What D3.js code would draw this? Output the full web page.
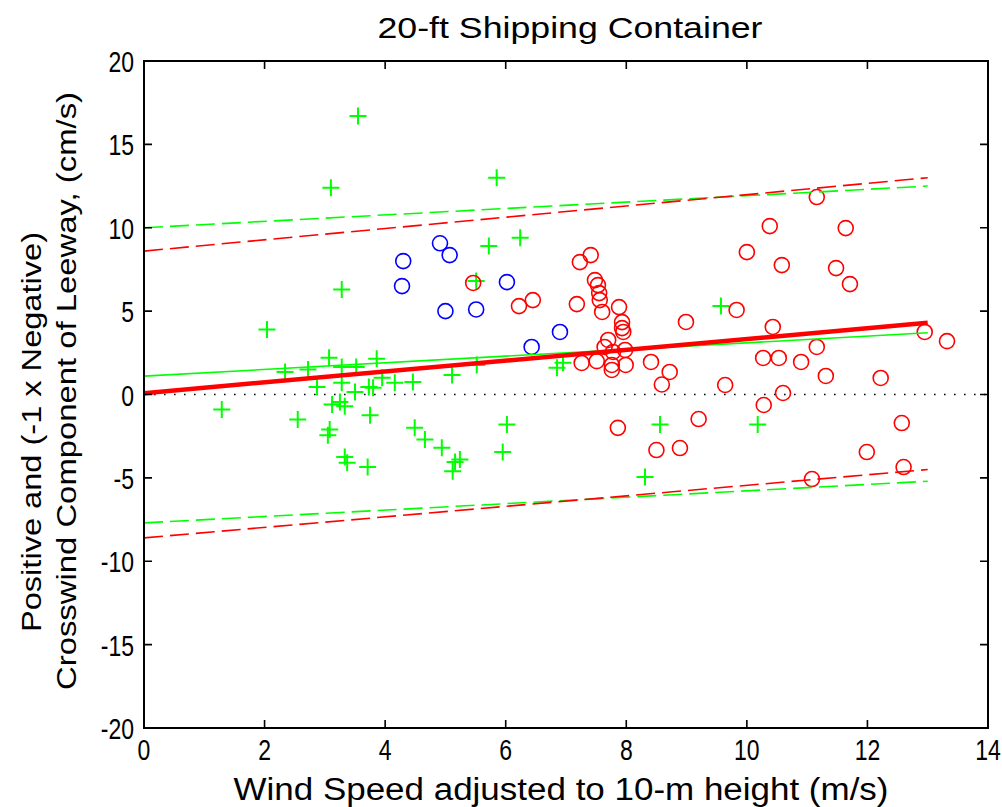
<!DOCTYPE html>
<html><head><meta charset="utf-8">
<script src="https://cdn.jsdelivr.net/npm/d3@7/dist/d3.min.js"></script>
<style>body{margin:0;background:#fff}svg{display:block}text{font-family:Arial,"Liberation Sans",sans-serif}</style>
</head><body><div id="chart"></div>
<script>
const xTicks = [0,2,4,6,8,10,12,14];
const yTicks = [-20,-15,-10,-5,0,5,10,15,20];

// Green "+" points: [wind speed, leeway]
const greenX = [3.55,3.10,5.85,3.28,5.72,6.24,5.51,9.57,2.04,1.29,2.55,2.34,2.72,3.07,3.28,3.52,3.86,2.87,3.28,3.50,3.73,3.12,3.25,3.33,3.08,3.05,3.75,3.33,3.37,3.71,3.95,3.80,4.16,4.46,5.11,5.52,4.49,4.66,4.94,5.16,5.24,5.12,6.02,5.95,6.85,6.95,8.56,8.31,10.18];
const greenY = [16.7,12.4,13.0,6.3,8.9,9.4,6.8,5.3,3.9,-0.9,-1.5,1.35,1.5,2.2,1.65,1.65,2.15,0.45,0.7,0.15,0.45,-0.6,-0.45,-0.7,-2.1,-2.45,-1.25,-3.75,-4.1,-4.35,1.0,0.4,0.7,0.75,1.17,1.77,-2.0,-2.7,-3.2,-4.05,-3.9,-4.6,-1.8,-3.45,1.6,1.9,-1.8,-4.95,-1.8];

// Blue circles
const blueX = [4.91,5.07,4.30,4.28,5.00,5.51,6.02,6.90,6.43];
const blueY = [9.07,8.36,8.0,6.5,5.0,5.1,6.74,3.75,2.85];

// Red circles
const redX = [5.46,6.22,6.45,7.23,7.41,7.18,7.48,7.53,7.55,7.56,7.60,7.88,7.93,7.93,7.95,7.70,7.64,7.78,7.98,7.26,7.51,7.76,7.76,7.99,8.41,7.86,8.59,8.72,
  11.16,10.38,11.64,10.00,10.58,11.48,11.71,9.83,8.99,10.43,12.95,13.32,11.16,10.27,10.53,10.90,11.31,12.22,9.64,10.60,10.28,9.20,8.50,8.89,12.57,11.99,12.60,11.08];
const redY = [6.69,5.3,5.66,7.94,8.36,5.42,6.86,6.56,6.08,5.66,4.95,5.24,4.34,3.98,3.75,3.27,2.85,2.55,2.67,1.89,2.0,1.77,1.47,1.77,1.95,-2.0,0.6,1.35,
  11.84,10.1,9.98,8.54,7.76,7.58,6.62,5.07,4.35,4.05,3.75,3.2,2.85,2.19,2.19,1.95,1.11,0.99,0.57,0.09,-0.63,-1.47,-3.33,-3.21,-1.71,-3.45,-4.35,-5.07];

// Fit lines [x0, y0, x1, y1]
const redFit = [0, 0.08, 13.0, 4.3];
const greenFit = [0, 1.1, 13.0, 3.7];
const redUpper = [0, 8.6, 13.0, 13.0];
const redLower = [0, -8.6, 13.0, -4.5];
const greenUpper = [0, 10.0, 13.0, 12.5];
const greenLower = [0, -7.7, 13.0, -5.2];
const zeroLine = [0, 0, 14, 0];

const W = 1002, H = 807;
const L = 144, R = 988, T = 61, B = 728;
const svg = d3.select("#chart").append("svg").attr("width", W).attr("height", H);
const x = d3.scaleLinear().domain([0,14]).range([L,R]);
const y = d3.scaleLinear().domain([-20,20]).range([B,T]);

svg.append("clipPath").attr("id","c").append("rect").attr("x",L).attr("y",T).attr("width",R-L).attr("height",B-T);
const plot = svg.append("g").attr("clip-path","url(#c)");

function line(arr, color, width, dash) {
  plot.append("line").attr("x1", x(arr[0])).attr("y1", y(arr[1])).attr("x2", x(arr[2])).attr("y2", y(arr[3]))
    .attr("stroke", color).attr("stroke-width", width).attr("stroke-dasharray", dash || null);
}
line(zeroLine, "#000", 1.6, "1.6,8.4");

const gp = greenX.map((v,i)=>[v, greenY[i]]);
plot.selectAll(".gp").data(gp).enter().append("path").attr("class","gp")
  .attr("d", d => { const cx=x(d[0]), cy=y(d[1]), s=8.5; return `M${cx-s},${cy}H${cx+s}M${cx},${cy-s}V${cy+s}`; })
  .attr("stroke","#00ff00").attr("stroke-width",2).attr("fill","none");
const bp = blueX.map((v,i)=>[v, blueY[i]]);
plot.selectAll(".bp").data(bp).enter().append("circle").attr("class","bp")
  .attr("cx", d=>x(d[0])).attr("cy", d=>y(d[1])).attr("r", 7.5)
  .attr("stroke","#0000ff").attr("stroke-width",1.6).attr("fill","none");
const rp = redX.map((v,i)=>[v, redY[i]]);
plot.selectAll(".rp").data(rp).enter().append("circle").attr("class","rp")
  .attr("cx", d=>x(d[0])).attr("cy", d=>y(d[1])).attr("r", 7.5)
  .attr("stroke","#ff0000").attr("stroke-width",1.6).attr("fill","none");

line(greenUpper, "#00ff00", 1.6, "19,7");
line(greenLower, "#00ff00", 1.6, "19,7");
line(redUpper, "#ff0000", 1.6, "19,7");
line(redLower, "#ff0000", 1.6, "19,7");
line(greenFit, "#00ff00", 1.6);
line(redFit, "#ff0000", 4.5);

svg.append("rect").attr("x",L).attr("y",T).attr("width",R-L).attr("height",B-T).attr("fill","none").attr("stroke","#000").attr("stroke-width",2);
const tl = 8;
const ax = svg.append("g");
ax.selectAll(".xt").data(xTicks).enter().append("path").attr("d", d=>`M${x(d)},${B}V${B-tl}M${x(d)},${T}V${T+tl}`).attr("stroke","#000").attr("stroke-width",1.6);
ax.selectAll(".yt").data(yTicks).enter().append("path").attr("d", d=>`M${L},${y(d)}H${L+tl}M${R},${y(d)}H${R-tl}`).attr("stroke","#000").attr("stroke-width",1.6);
ax.selectAll(".xl").data(xTicks).enter().append("text")
  .attr("transform", d=>`translate(${x(d)},${B+32}) scale(1,1.3)`).attr("text-anchor","middle").attr("font-size",23).text(d=>d);
ax.selectAll(".yl").data(yTicks).enter().append("text")
  .attr("transform", d=>`translate(${L-10},${y(d)+11}) scale(1,1.3)`).attr("text-anchor","end").attr("font-size",23).text(d=>d);

svg.append("text").attr("x",570).attr("y",38).attr("text-anchor","middle").attr("font-size",29)
  .attr("textLength",385).attr("lengthAdjust","spacingAndGlyphs").text("20-ft Shipping Container");
svg.append("text").attr("x",561).attr("y",800).attr("text-anchor","middle").attr("font-size",31)
  .attr("textLength",655).attr("lengthAdjust","spacingAndGlyphs").text("Wind Speed adjusted to 10-m height (m/s)");
svg.append("text").attr("transform","translate(41,432) rotate(-90)").attr("text-anchor","middle").attr("font-size",27)
  .attr("textLength",400).attr("lengthAdjust","spacingAndGlyphs").text("Positive and (-1 x Negative)");
svg.append("text").attr("transform","translate(76,391) rotate(-90)").attr("text-anchor","middle").attr("font-size",27)
  .attr("textLength",598).attr("lengthAdjust","spacingAndGlyphs").text("Crosswind Component of Leeway, (cm/s)");
</script></body></html>
